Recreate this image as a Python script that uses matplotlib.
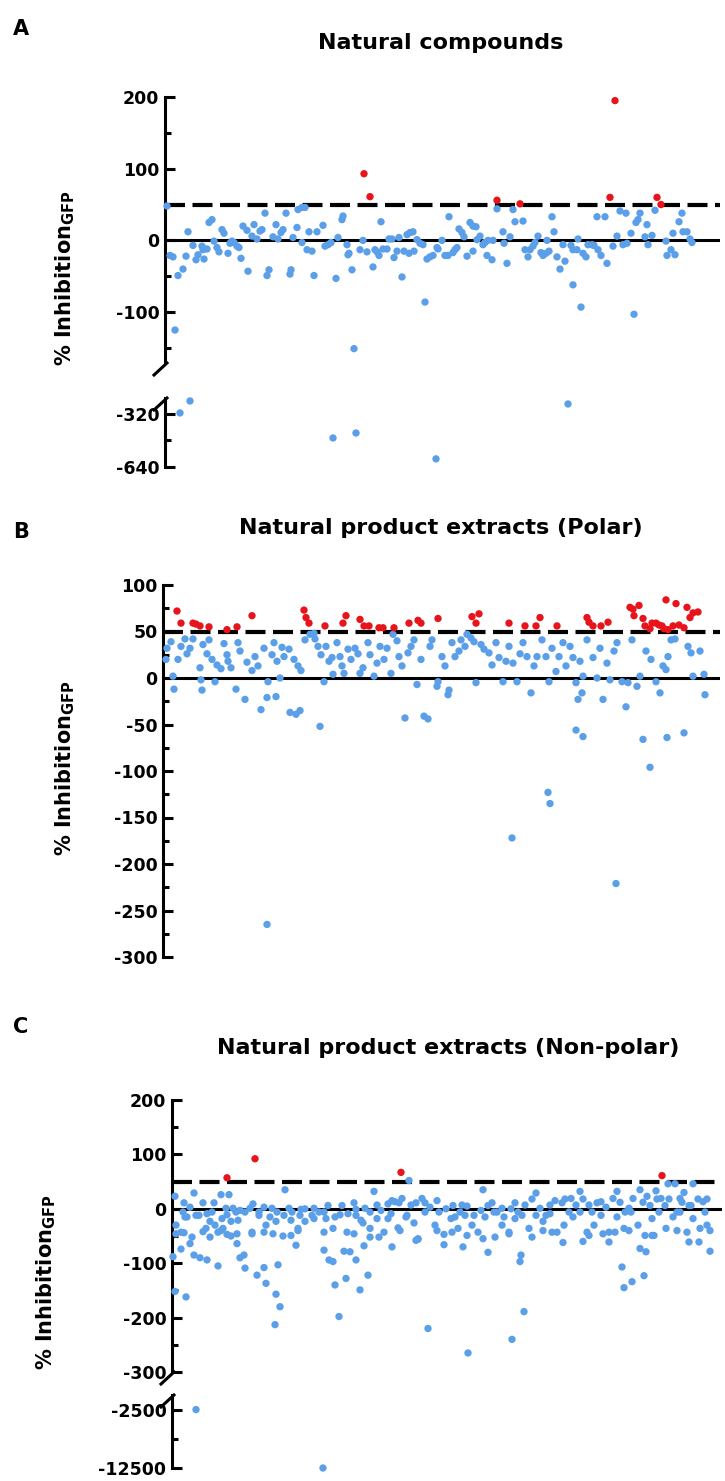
import matplotlib
matplotlib.use("Agg")
import matplotlib.pyplot as plt
from matplotlib.lines import Line2D

plt.rcParams['font.family'] = ['DejaVu Sans']
plt.rcParams['axes.unicode_minus'] = False

AZUL = "#5b9fe9"
VERMELHO = "#e8141b"
W, H = 725, 1481

# (posição na placa, % inibição GFP)
A_azul = [(2,48),(5,-21),(8,-23),(10,-125),(13,-49),(15,-314),(18,-40),(21,-22),(23,12),(25,-242),(28,-7),(31,-27),(33,-20),(37,-8),(38,-13),(39,-26),(42,-12),(44,25),(47,29),(49,-1),(52,-10),(54,-16),(57,15),(59,10),(63,-18),(65,-4),(67,-1),(69,-3),(72,-8),(74,-10),(76,-25),(78,20),(82,14),(83,-43),(87,6),(89,22),(92,2),(95,13),(97,15),(100,38),(102,-49),(104,-41),(108,5),(111,22),(113,2),(116,11),(118,15),(121,38),(125,-47),(126,-41),(128,4),(132,18),(133,43),(137,46),(137,-3),(140,46),(142,-13),(144,12),(147,-15),(149,-49),(152,12),(158,21),(160,-8),(163,-6),(166,-3),(168,-465),(171,-53),(173,4),(177,29),(178,34),(182,-6),(183,-20),(184,-18),(187,-41),(189,-151),(191,-435),(195,-13),(198,0),(202,-16),(208,-37),(210,-13),(212,-16),(214,-21),(216,26),(218,-12),(222,-12),(224,2),(227,2),(229,-24),(232,-15),(234,4),(237,-51),(239,-15),(242,8),(244,-18),(245,11),(248,12),(249,-15),(252,1),(255,-4),(258,-6),(260,-86),(262,-26),(265,-23),(268,-21),(271,-591),(272,-10),(273,-12),(277,0),(280,-21),(283,-21),(284,33),(288,-17),(290,-13),(292,-10),(294,16),(297,11),(299,5),(302,-22),(305,25),(308,20),(308,-15),(311,19),(312,1),(315,6),(318,-6),(320,-3),(322,-21),(323,0),(327,-27),(328,0),(332,44),(338,12),(339,-4),(342,-32),(345,5),(348,43),(350,26),(358,27),(360,-13),(363,-23),(365,-13),(368,-8),(370,-3),(373,6),(376,-17),(378,-21),(381,-18),(382,0),(384,-15),(387,33),(389,12),(392,-23),(395,-40),(398,-6),(400,-29),(403,-260),(406,-7),(408,-13),(408,-62),(412,-13),(413,2),(416,-93),(418,-18),(421,-23),(423,-6),(427,-6),(429,-7),(432,33),(433,-13),(436,-21),(440,33),(442,-32),(448,-8),(452,6),(455,41),(458,-6),(461,38),(462,-4),(466,10),(469,-103),(471,25),(473,29),(475,38),(480,5),(482,22),(483,-6),(487,7),(490,42),(501,-1),(502,-21),(506,-13),(508,10),(510,-20),(514,26),(517,38),(518,12),(522,12),(525,2),(527,-3)]
A_hits = [(199,93),(205,61),(332,56),(355,51),(445,60),(450,195),(492,60),(496,50)]

B_azul = [(3,20),(4,32),(8,39),(10,2),(11,-12),(15,20),(18,34),(22,42),(24,26),(27,32),(30,42),(37,11),(38,-2),(39,-13),(40,36),(44,26),(46,41),(49,20),(52,-4),(54,14),(58,10),(61,37),(64,25),(65,18),(68,11),(73,-12),(75,38),(77,29),(82,-23),(84,17),(89,8),(92,23),(95,13),(98,-34),(101,32),(104,-21),(104,-265),(105,-4),(109,25),(111,38),(113,-20),(114,18),(117,0),(119,33),(121,23),(126,31),(127,-37),(131,20),(133,-39),(135,13),(137,-35),(138,8),(142,41),(147,47),(151,48),(152,42),(155,34),(157,-52),(158,25),(161,-4),(163,34),(166,18),(169,22),(170,4),(174,38),(177,23),(179,13),(181,5),(185,31),(188,20),(192,32),(195,26),(197,5),(200,11),(205,38),(207,25),(211,2),(214,16),(217,34),(221,20),(224,32),(228,5),(230,47),(234,40),(236,23),(239,13),(242,-43),(245,27),(248,34),(251,41),(254,-7),(258,20),(261,-41),(265,-44),(267,34),(269,41),(274,-9),(275,-4),(279,23),(282,13),(285,-18),(286,-13),(289,38),(292,23),(296,29),(298,41),(302,34),(304,47),(308,43),(311,39),(313,-5),(318,36),(321,31),(326,27),(329,14),(333,38),(336,22),(340,-4),(343,18),(346,34),(349,-172),(350,16),(354,-4),(357,26),(360,38),(364,23),(368,-16),(371,13),(374,23),(379,41),(383,23),(385,-123),(386,-4),(387,-135),(389,32),(393,7),(396,23),(400,38),(403,13),(407,34),(410,22),(413,-5),(413,-56),(415,-23),(417,18),(419,-16),(420,2),(420,-63),(424,41),(430,22),(434,0),(437,32),(440,-23),(444,16),(447,-2),(451,29),(453,-221),(454,38),(459,-4),(463,-31),(465,-5),(469,41),(474,-9),(477,2),(480,-66),(483,29),(487,-96),(488,20),(493,-4),(497,-16),(500,13),(503,9),(504,-64),(505,23),(508,41),(512,42),(521,-59),(525,34),(528,27),(530,2),(537,29),(541,4),(542,-18)]
B_hits = [(14,72),(18,59),(30,59),(33,58),(37,56),(46,55),(64,52),(74,55),(89,67),(141,73),(143,65),(146,59),(162,56),(180,59),(183,67),(197,63),(201,56),(206,56),(216,54),(220,54),(231,54),(246,59),(255,62),(258,59),(275,64),(309,66),(313,59),(316,69),(346,59),(362,56),(373,56),(377,65),(394,56),(424,65),(426,60),(430,56),(438,56),(445,60),(467,76),(470,74),(471,67),(476,78),(480,64),(482,56),(487,53),(489,59),(493,59),(496,57),(499,56),(501,53),(503,84),(505,52),(510,56),(513,80),(516,57),(521,54),(524,76),(527,65),(530,70),(535,71)]

C_azul = [(3,23),(12,11),(22,29),(31,11),(42,11),(49,26),(54,1),(57,26),(61,1),(78,1),(100,1),(113,35),(117,1),(133,0),(142,1),(182,11),(193,1),(202,32),(216,9),(223,13),(230,19),(237,52),(244,11),(253,11),(265,15),(281,6),(290,7),(311,35),(320,11),(330,1),(343,11),(364,29),(378,7),(390,11),(399,19),(408,32),(417,7),(429,13),(445,32),(457,1),(468,35),(475,23),(484,33),(489,19),(496,46),(503,46),(508,19),(512,30),(519,6),(521,46),(531,13),(535,18),
          (4,-30),(9,-43),(15,-15),(24,-12),(34,-36),(40,-6),(46,-43),(51,-36),(59,-50),(66,-21),(73,-6),(80,-43),(87,-12),(94,-30),(104,-23),(111,-50),(119,-21),(126,-36),(133,-23),(140,-12),(147,-6),(154,-18),(161,-36),(168,-11),(175,-43),(184,-12),(191,-26),(198,-36),(205,-18),(212,-43),(219,-9),(226,-35),(235,-12),(242,-26),(246,-55),(253,-6),(263,-30),(272,-47),(279,-18),(286,-36),(293,-12),(300,-30),(306,-43),(313,-15),(322,-6),(330,-30),(337,-43),(343,-18),(350,-12),(357,-36),(364,-12),(371,-23),(378,-9),(385,-43),(392,-30),(401,-15),(408,-6),(415,-43),(422,-30),(429,-12),(437,-43),(445,-15),(452,-36),(459,-6),(466,-30),(473,-49),(480,-18),(487,-6),(494,-36),(501,-15),(508,-6),(515,-43),(521,-18),(528,-36),(535,-30),
          (11,-6),(13,-15),(18,3),(27,-12),(35,-9),(38,-23),(43,-30),(50,-18),(55,-11),(59,-23),(64,-6),(68,-3),(81,9),(87,-6),(92,3),(98,-15),(105,-6),(112,-12),(120,-6),(128,-12),(129,-1),(142,-18),(152,-6),(156,6),(163,-15),(170,6),(176,-9),(184,-1),(189,-21),(198,-6),(205,7),(209,-3),(216,-18),(220,15),(227,11),(234,-15),(239,7),(250,19),(258,3),(267,-6),(274,0),(283,-15),(288,-6),(295,5),(302,-12),(309,-3),(316,6),(325,-6),(332,-15),(339,0),(346,-6),(353,7),(360,18),(368,1),(374,-12),(383,15),(393,18),(397,-6),(404,7),(411,18),(420,-6),(425,11),(434,3),(441,19),(448,12),(453,-6),(461,19),(471,12),(478,6),(485,18),(493,6),(497,18),(505,-6),(510,12),(517,6),(526,18),(533,-6),
          (4,-46),(12,-44),(20,-52),(31,-42),(38,-52),(49,-40),(55,-47),(65,-46),(80,-46),(92,-43),(101,-46),(119,-49),(126,-40),(152,-43),(182,-46),(198,-52),(207,-52),(228,-40),(246,-56),(265,-40),(280,-43),(295,-49),(311,-55),(323,-52),(337,-46),(360,-52),(371,-40),(380,-43),(417,-49),(431,-46),(443,-43),(457,-40),(480,-49),(505,-40),(538,-40),
          (1,-88),(3,-152),(9,-74),(14,-162),(18,-64),(22,-85),(28,-90),(35,-94),(46,-105),(65,-64),(68,-90),(72,-85),(73,-109),(85,-122),(92,-108),(94,-137),(103,-213),(104,-157),(106,-103),(108,-180),(124,-67),(152,-76),(157,-94),(161,-97),(163,-140),(167,-198),(172,-78),(174,-128),(178,-79),(184,-94),(188,-149),(192,-68),(196,-122),(220,-70),(244,-58),(256,-220),(272,-66),(291,-70),(296,-265),(316,-80),(340,-240),(348,-97),(349,-85),(352,-189),(391,-62),(411,-60),(437,-61),(450,-107),(452,-145),(460,-134),(468,-73),(472,-123),(474,-79),(482,-49),(517,-61),(527,-61),(538,-78),
          (24,-2500),(151,-12500)]
C_hits = [(55,57),(83,92),(229,67),(490,61)]

fig = plt.figure(figsize=(W / 100, H / 100), dpi=100)


def eixo(esq, topo, dir, base):
    return fig.add_axes([esq / W, 1 - base / H, (dir - esq) / W, (base - topo) / H])


def estilo(ax, lims, ticks, menores, xmax):
    ax.set_ylim(*lims)
    ax.set_xlim(0, xmax)
    for s in ['top', 'right', 'bottom']:
        ax.spines[s].set_visible(False)
    ax.spines['left'].set_linewidth(2.2)
    ax.set_xticks([])
    ax.set_yticks(ticks)
    ax.set_yticks(menores, minor=True)
    ax.tick_params(axis='y', which='major', direction='in', length=7, width=2.2, labelsize=12.5, pad=4)
    ax.tick_params(axis='y', which='minor', direction='in', length=4, width=2.2)
    for t in ax.get_yticklabels():
        t.set_fontweight('bold')
    ax.patch.set_alpha(0)


def pontos(ax, pares, cor, lo, hi):
    x = [p for p, v in pares if lo <= v <= hi]
    y = [v for p, v in pares if lo <= v <= hi]
    ax.scatter(x, y, s=28, color=cor, edgecolors='none', zorder=3, clip_on=False)


def linhas(ax):
    ax.axhline(0, color='black', lw=2.2, zorder=2)
    ax.axhline(50, color='black', lw=3, dashes=(4.8, 1.8), zorder=2)


def quebra(x, y):
    fig.add_artist(Line2D([x / W, (x - 13) / W], [1 - y / H, 1 - (y + 12) / H], color='black', lw=2.2))


def textos(letra, ly, titulo, tx, ty, lx, lyl):
    fig.text(21 / W, 1 - ly / H, letra, fontsize=15, fontweight='bold', ha='center', va='center')
    fig.text(tx / W, 1 - ty / H, titulo, fontsize=16, fontweight='bold', ha='center', va='center')
    fig.text(lx / W, 1 - lyl / H, r'% Inhibition$_{\mathbf{GFP}}$', rotation=90, fontsize=15,
             fontweight='bold', ha='center', va='center')


# Painel A
a1 = eixo(165, 97, 720, 363)
estilo(a1, (-171, 200), [200, 100, 0, -100], [150, 50, -50, -150], 555)
linhas(a1)
pontos(a1, A_azul, AZUL, -171, 200)
pontos(a1, A_hits, VERMELHO, -171, 200)
a2 = eixo(165, 398, 720, 467)
estilo(a2, (-640, -224), [-320, -640], [-480], 555)
pontos(a2, A_azul, AZUL, -640, -224)
quebra(167, 363)
quebra(167, 398)
textos('A', 29, 'Natural compounds', 441, 43, 65, 278)

# Painel B
b1 = eixo(163, 585, 720, 957)
estilo(b1, (-300, 100), [100, 50, 0, -50, -100, -150, -200, -250, -300],
       [75, 25, -25, -75, -125, -175, -225, -275], 557)
linhas(b1)
pontos(b1, B_azul, AZUL, -300, 100)
pontos(b1, B_hits, VERMELHO, -300, 100)
textos('B', 532, 'Natural product extracts (Polar)', 441, 528, 65, 768)

# Painel C
c1 = eixo(172, 1100, 722, 1372)
estilo(c1, (-298, 200), [200, 100, 0, -100, -200, -300], [150, 50, -50, -150, -250], 550)
linhas(c1)
pontos(c1, C_azul, AZUL, -298, 200)
pontos(c1, C_hits, VERMELHO, -298, 200)
c2 = eixo(172, 1395, 722, 1468)
estilo(c2, (-12500, 0), [-2500, -12500], [-7500], 550)
pontos(c2, C_azul, AZUL, -12500, -1000)
quebra(174, 1372)
quebra(174, 1395)
textos('C', 1027, 'Natural product extracts (Non-polar)', 448, 1048, 46, 1282)

fig.savefig('out.png', dpi=100)
